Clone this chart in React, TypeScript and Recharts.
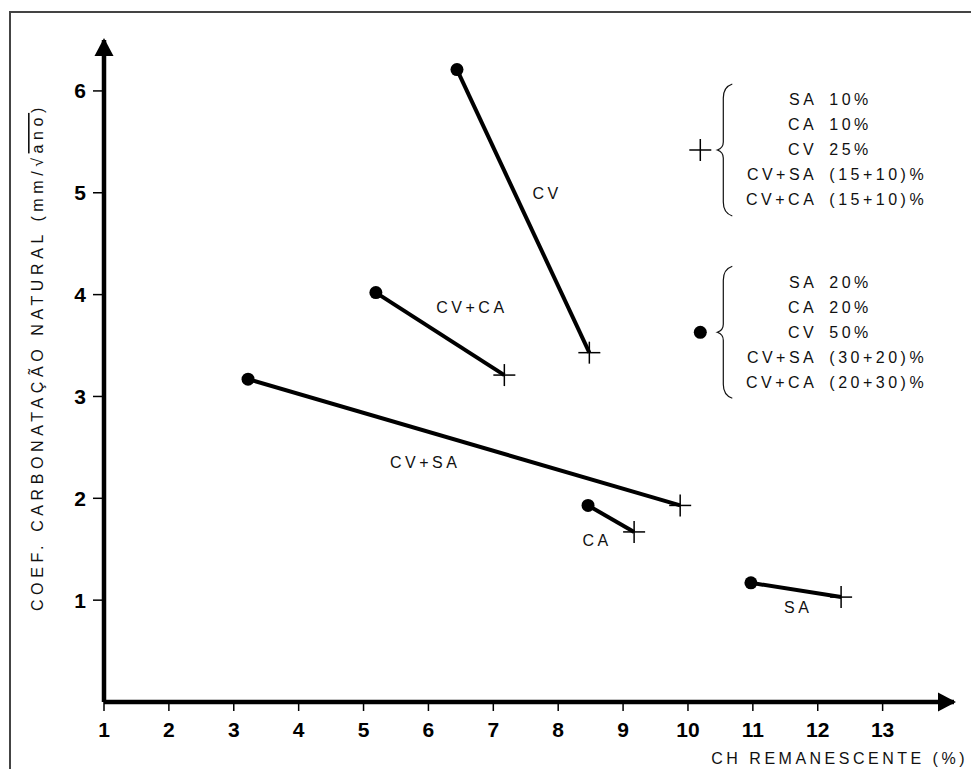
import React from 'react';
import { ScatterChart, Scatter, XAxis, YAxis, ReferenceDot } from 'recharts';

// ---- data ----
const seriesNames = ['CV', 'CV+CA', 'CV+SA', 'CA', 'SA'];
const dotX = [6.44, 5.19, 3.22, 8.46, 10.97];
const dotY = [6.21, 4.02, 3.17, 1.93, 1.17];
const crossX = [8.48, 7.17, 9.88, 9.17, 12.36];
const crossY = [3.43, 3.21, 1.93, 1.67, 1.03];
const labelX = [7.83, 6.67, 5.95, 8.6, 11.7];
const labelY = [4.99, 3.87, 2.35, 1.59, 0.93];

const xTicks = [1, 2, 3, 4, 5, 6, 7, 8, 9, 10, 11, 12, 13];
const yTicks = [1, 2, 3, 4, 5, 6];
const xDomain = [1, 14.1];
const yDomain = [0, 6.5];

const legendNames = ['SA', 'CA', 'CV', 'CV+SA', 'CV+CA'];
const legendCrossValues = ['10%', '10%', '25%', '(15+10)%', '(15+10)%'];
const legendDotValues = ['20%', '20%', '50%', '(30+20)%', '(20+30)%'];
const legendMarkerX = [10.19, 10.19];
const legendMarkerY = [5.42, 3.63];

const xTitle = 'CH REMANESCENTE (%)';
const yTitleMain = 'COEF. CARBONATAÇÃO NATURAL (mm/√';
const yTitleRoot = 'ano';
const yTitleEnd = ')';

// ---- styles ----
const FONT = '"Liberation Sans", Arial, sans-serif';
const textStyle = { fontFamily: FONT, fontSize: 16, letterSpacing: 3.5, fill: '#111' };
const yTitleStyle = { ...textStyle, letterSpacing: 4.6 };

const seriesData = seriesNames.map((name, i) => [
  { x: dotX[i], y: dotY[i], kind: 'dot', name },
  { x: crossX[i], y: crossY[i], kind: 'cross', name },
]);
const labelData = seriesNames.map((name, i) => ({ x: labelX[i], y: labelY[i], text: name }));
const legendData = [
  { x: legendMarkerX[0], y: legendMarkerY[0], kind: 'cross', values: legendCrossValues },
  { x: legendMarkerX[1], y: legendMarkerY[1], kind: 'dot', values: legendDotValues },
];

const Cross = ({ cx, cy }: { cx: number; cy: number }) => (
  <g>
    <line x1={cx - 11} x2={cx + 11} y1={cy} y2={cy} stroke="#000" strokeWidth={1.5} />
    <line x1={cx} x2={cx} y1={cy - 11} y2={cy + 11} stroke="#000" strokeWidth={1.5} />
  </g>
);

const Marker = (props: any) => {
  const { cx, cy, payload } = props;
  if (cx == null || cy == null) return <g />;
  if (payload.kind === 'dot') return <circle cx={cx} cy={cy} r={6.5} fill="#000" />;
  return <Cross cx={cx} cy={cy} />;
};

const TextMark = (props: any) => {
  const { cx, cy, payload } = props;
  if (cx == null || cy == null) return <g />;
  return (
    <text x={cx} y={cy} textAnchor="middle" dominantBaseline="central" style={textStyle}>
      {payload.text}
    </text>
  );
};

const lineOffsets = [-50, -25, 0, 25, 50];

const LegendMark = (props: any) => {
  const { cx, cy, payload } = props;
  if (cx == null || cy == null) return <g />;
  const top = cy - 66;
  const bot = cy + 66;
  const vx = cx + 23;
  const brace = `M ${cx + 32} ${top} Q ${vx} ${top + 3} ${vx} ${top + 14} L ${vx} ${cy - 8} Q ${vx} ${cy - 2} ${cx + 17} ${cy} Q ${vx} ${cy + 2} ${vx} ${cy + 8} L ${vx} ${bot - 14} Q ${vx} ${bot - 3} ${cx + 32} ${bot}`;
  return (
    <g>
      {payload.kind === 'dot' ? <circle cx={cx} cy={cy} r={6.5} fill="#000" /> : <Cross cx={cx} cy={cy} />}
      <path d={brace} fill="none" stroke="#111" strokeWidth={1.2} />
      {legendNames.map((n, i) => (
        <text key={'n' + i} x={cx + 117} y={cy + lineOffsets[i]} textAnchor="end" dominantBaseline="central" style={textStyle}>
          {n}
        </text>
      ))}
      {payload.values.map((v: string, i: number) => (
        <text key={'v' + i} x={cx + 129} y={cy + lineOffsets[i]} textAnchor="start" dominantBaseline="central" style={textStyle}>
          {v}
        </text>
      ))}
    </g>
  );
};

const ArrowUp = (props: any) => {
  const { cx, cy } = props;
  if (cx == null || cy == null) return <g />;
  return <path d={`M ${cx} ${cy - 2} L ${cx + 9.5} ${cy + 16} L ${cx - 9.5} ${cy + 16} Z`} fill="#000" />;
};
const ArrowRight = (props: any) => {
  const { cx, cy } = props;
  if (cx == null || cy == null) return <g />;
  return <path d={`M ${cx + 2} ${cy} L ${cx - 16} ${cy + 9.5} L ${cx - 16} ${cy - 9.5} Z`} fill="#000" />;
};

const XTitle = (props: any) => {
  const vb = props.viewBox || {};
  return (
    <text x={vb.x + vb.width + 14} y={vb.y + 62} textAnchor="end" style={textStyle}>
      {xTitle}
    </text>
  );
};

const YTitle = (props: any) => {
  const vb = props.viewBox || {};
  const x = vb.x - 1;
  const y = vb.y + vb.height / 2 - 14;
  return (
    <text transform={`translate(${x},${y}) rotate(-90)`} textAnchor="middle" style={yTitleStyle}>
      {yTitleMain}
      <tspan style={{ textDecoration: 'overline' }}>{yTitleRoot}</tspan>
      {yTitleEnd}
    </text>
  );
};

const tickStyle = { fontFamily: FONT, fontSize: 21, fontWeight: 'bold' as const, fill: '#000' };

export default function App() {
  return (
    <div style={{ position: 'relative', width: 964, height: 763 }}>
      <div
        style={{
          position: 'absolute',
          left: 1,
          top: 3,
          width: 962,
          height: 758,
          borderTop: '2px solid #444',
          borderLeft: '2px solid #444',
          boxSizing: 'border-box',
        }}
      />
      <ScatterChart
        width={964}
        height={763}
        margin={{ top: 32, right: 18, left: 36, bottom: 9 }}
        style={{ position: 'absolute', left: 0, top: 0 }}
      >
        <XAxis
          type="number"
          dataKey="x"
          domain={xDomain}
          ticks={xTicks}
          allowDataOverflow
          height={60}
          axisLine={{ stroke: '#000', strokeWidth: 4.5 }}
          tickLine={{ stroke: '#000', strokeWidth: 1.5 }}
          tickSize={9}
          tickMargin={11}
          tick={tickStyle}
          label={<XTitle />}
        />
        <YAxis
          type="number"
          dataKey="y"
          domain={yDomain}
          ticks={yTicks}
          allowDataOverflow
          width={60}
          axisLine={{ stroke: '#000', strokeWidth: 4.5 }}
          tickLine={{ stroke: '#000', strokeWidth: 1.5 }}
          tickSize={11}
          tickMargin={7}
          tick={tickStyle}
          label={<YTitle />}
        />
        {seriesData.map((d, i) => (
          <Scatter
            key={seriesNames[i]}
            data={d}
            line={{ stroke: '#000', strokeWidth: 4 }}
            lineType="joint"
            shape={Marker}
            isAnimationActive={false}
          />
        ))}
        <Scatter data={labelData} shape={TextMark} isAnimationActive={false} />
        <Scatter data={legendData} shape={LegendMark} isAnimationActive={false} />
        <ReferenceDot x={xDomain[0]} y={yDomain[1]} shape={ArrowUp} ifOverflow="visible" />
        <ReferenceDot x={xDomain[1]} y={yDomain[0]} shape={ArrowRight} ifOverflow="visible" />
      </ScatterChart>
    </div>
  );
}
